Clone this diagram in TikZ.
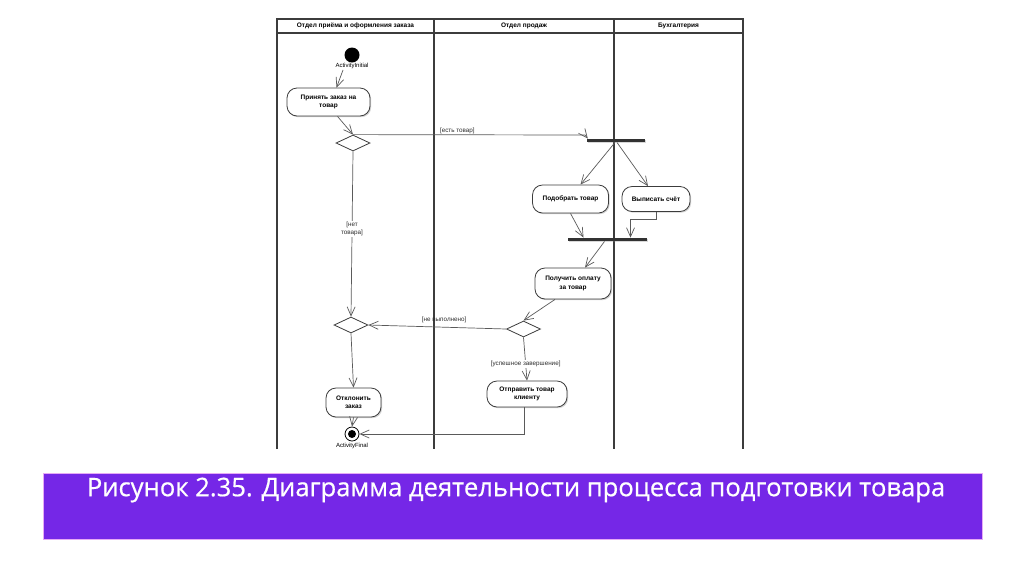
\documentclass[tikz,border=0pt]{standalone}
\usepackage{fontspec}
\setmainfont{Liberation Sans}
\newfontfamily\captionfont[FakeBold=0.6]{Open Sans}
\usetikzlibrary{positioning, shapes.geometric, arrows.meta, shadows}
\definecolor{LaneGray}{RGB}{60, 60, 60}
\definecolor{FlowGray}{RGB}{90, 90, 90}
\definecolor{BarGray}{RGB}{50, 50, 50}
\definecolor{GuardGray}{RGB}{45, 45, 45}
\definecolor{CaptionViolet}{RGB}{117, 39, 231}
\definecolor{CaptionEdge}{RGB}{230, 170, 245}

\tikzset{
  lane/.style={draw=LaneGray, line width=1.3pt},
  lanehead/.style={font=\fontsize{6.5}{8}\selectfont\bfseries},
  actbox/.style={draw=LaneGray, line width=0.8pt, fill=white, rounded corners=10pt,
    align=center, inner sep=2pt, font=\fontsize{6.5}{8.5}\selectfont\bfseries,
    drop shadow={shadow xshift=1.2pt, shadow yshift=-1.2pt, opacity=0.35}},
  choice/.style={diamond, draw=LaneGray, line width=0.8pt, fill=white, inner sep=0pt,
    minimum width=34pt, minimum height=16pt},
  syncbar/.style={rectangle, fill=BarGray, inner sep=0pt, minimum height=3.5pt,
    drop shadow={shadow xshift=1pt, shadow yshift=-1pt, opacity=0.3}},
  flow/.style={draw=FlowGray, line width=0.7pt, -{Straight Barb[length=9pt, width=8pt]}},
  guard/.style={font=\fontsize{6.3}{7.8}\selectfont, text=GuardGray, align=center, inner sep=1pt},
  tag/.style={font=\fontsize{6}{7}\selectfont, inner sep=1pt}
}

\begin{document}
\begin{tikzpicture}[x=1pt, y=-1pt]
  \useasboundingbox (0,0) rectangle (1024,574);
  \fill[white] (0,0) rectangle (1024,574);

  % Swimlanes
  \draw[lane] (277,449) -- (277,19) -- (743,19) -- (743,449);
  \draw[lane] (277,33) -- (743,33);
  \draw[lane] (434,19) -- (434,449);
  \draw[lane] (614,19) -- (614,449);
  \node[lanehead] (laneorder) at (355.5,26) {Отдел приёма и оформления заказа};
  \node[lanehead] (lanesales) at (524,26) {Отдел продаж};
  \node[lanehead] (laneacct) at (678.5,26) {Бухгалтерия};

  % Start and end
  \node[circle, fill=black, inner sep=0pt, minimum size=15pt] (start) at (352,55) {};
  \node[tag] (startlbl) at (352,66) {ActivityInitial};
  \node[circle, draw=black, line width=0.8pt, fill=white, inner sep=0pt, minimum size=14pt] (finish) at (352,434) {};
  \fill[black] (finish.center) circle (4pt);
  \node[tag] (finishlbl) at (352,446) {ActivityFinal};

  % Actions
  \node[actbox, minimum width=83pt, minimum height=28pt] (takeorder) at (328.5,102) {Принять заказ на\\товар};
  \node[actbox, minimum width=76pt, minimum height=28pt] (pickgoods) at (570.5,199) {Подобрать товар};
  \node[actbox, minimum width=68pt, minimum height=25pt] (writebill) at (656,199) {Выписать счёт};
  \node[actbox, minimum width=76pt, minimum height=31pt] (getpay) at (573,283.5) {Получить оплату\\за товар};
  \node[actbox, minimum width=55pt, minimum height=29pt] (reject) at (353.5,402.5) {Отклонить\\заказ};
  \node[actbox, minimum width=80pt, minimum height=26pt] (ship) at (527,394) {Отправить товар\\клиенту};

  % Decisions and bars
  \node[choice] (instock) at (353,143) {};
  \node[choice] (paidok) at (523.5,329) {};
  \node[choice] (merge) at (351,325) {};
  \node[syncbar, minimum width=58pt] (fork) at (616,140.5) {};
  \node[syncbar, minimum width=79pt] (join) at (607.5,239.5) {};

  % Flows
  \draw[flow] ([xshift=-9pt]startlbl.south) -- ([xshift=8pt]takeorder.north);
  \draw[flow] ([xshift=9pt]takeorder.south) -- (instock.north);
  \draw[flow] (instock.north) -- (585,135) node[guard, pos=0.45, above] {[есть товар]}
    -- ([xshift=1pt]fork.north west);
  \draw[flow] ([xshift=-1pt]fork.south) -- ([xshift=10pt]pickgoods.north);
  \draw[flow] ([xshift=1pt]fork.south) -- ([xshift=-8pt]writebill.north);
  \draw[flow] (pickgoods.south) -- ([xshift=-24pt]join.north);
  \draw[flow] (writebill.south) -- ++(0,7) -| ([xshift=23pt]join.north);
  \draw[flow] ([xshift=-3pt]join.south) -- ([xshift=12pt]getpay.north);
  \draw[flow] ([xshift=-18pt]getpay.south) -- (paidok.north);
  \draw[flow] (paidok.west) -- (merge.east) node[guard, pos=0.45, above=3pt] {[не выполнено]};
  \draw[flow] (instock.south) -- (merge.north) node[guard, pos=0.47, fill=white] {[нет\\товара]};
  \draw[flow] (merge.south) -- (reject.north);
  \draw[flow] (reject.south) -- (finish.north);
  \draw[flow] (paidok.south) -- (ship.north) node[guard, pos=0.62, fill=white] {[успешное завершение]};
  \draw[flow] ([xshift=-3pt]ship.south) |- (finish.east);

  % Caption
  \node[draw=CaptionEdge, line width=0.8pt, fill=CaptionViolet, minimum width=939pt, minimum height=66pt,
    inner sep=0pt] (capbox) at (512.5,506) {};
  \node[text=white, font=\captionfont\fontsize{25.6}{28}\selectfont, inner sep=0pt] (captext) at (516,490)
    {Рисунок 2.35. Диаграмма деятельности процесса подготовки товара};
\end{tikzpicture}
\end{document}
